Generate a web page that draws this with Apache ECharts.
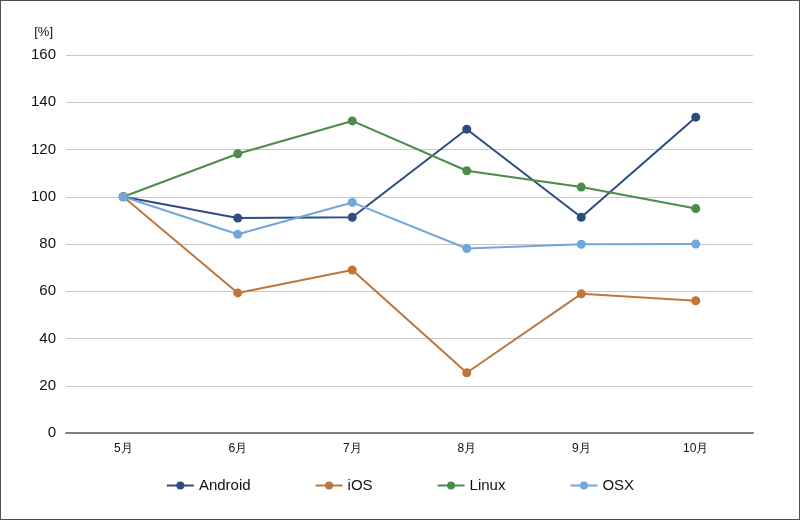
<!DOCTYPE html>
<html>
<head>
<meta charset="utf-8">
<script src="https://cdn.jsdelivr.net/npm/echarts@6/dist/echarts.min.js"></script>
<style>
  html, body { margin: 0; padding: 0; background: #fff; }
  #wrap { position: relative; width: 800px; height: 520px; }
  #chart { width: 800px; height: 520px; }
  #frame { position: absolute; left: 0; top: 0; width: 800px; height: 520px;
           box-sizing: border-box; border: 1px solid #4f4f4f; pointer-events: none; }
</style>
</head>
<body>
<div id="wrap">
  <div id="chart"></div>
  <div id="frame"></div>
</div>
<script>
var months = ['5月', '6月', '7月', '8月', '9月', '10月'];
var android = [100, 91, 91.3, 128.6, 91.3, 133.7];
var ios = [100, 59.3, 69, 25.5, 58.9, 56];
var linux = [100, 118.2, 132.1, 111, 104.1, 95];
var osx = [100, 84.1, 97.6, 78.1, 79.9, 80];

var names = ['Android', 'iOS', 'Linux', 'OSX'];
var colors = ['#2c4d7f', '#bf763a', '#4b8c48', '#72a7db'];
var values = [android, ios, linux, osx];

var myChart = echarts.init(document.getElementById('chart'), null, { renderer: 'canvas' });

var series = [];
for (var i = 0; i < names.length; i++) {
  series.push({
    name: names[i],
    type: 'line',
    data: values[i],
    symbol: 'circle',
    symbolSize: 9,
    lineStyle: { width: 2, color: colors[i] },
    itemStyle: { color: colors[i] },
    emphasis: { disabled: true }
  });
}

var option = {
  animation: false,
  textStyle: { fontFamily: 'Liberation Sans, Arial, sans-serif' },
  grid: { left: 66, right: 47, top: 55, bottom: 87, containLabel: false },
  legend: {
    data: names,
    left: 'center',
    top: 473,
    itemWidth: 27,
    itemHeight: 10,
    itemGap: 64,
    textStyle: { fontSize: 15, color: '#111' }
  },
  xAxis: {
    type: 'category',
    data: months,
    boundaryGap: true,
    axisTick: { show: false },
    axisLine: { lineStyle: { color: '#808080', width: 2 } },
    axisLabel: { color: '#111', fontSize: 12, margin: 10 },
    splitLine: { show: false }
  },
  yAxis: {
    type: 'value',
    min: 0,
    max: 160,
    interval: 20,
    name: '[%]',
    nameLocation: 'end',
    nameGap: 16,
    nameTextStyle: { color: '#111', fontSize: 13, align: 'right', padding: [0, 13, 0, 0] },
    axisLine: { show: false },
    axisTick: { show: false },
    axisLabel: { color: '#111', fontSize: 15, margin: 10 },
    splitLine: { lineStyle: { color: '#c9c9c9', width: 1 } }
  },
  series: series
};

myChart.setOption(option);
</script>
</body>
</html>
